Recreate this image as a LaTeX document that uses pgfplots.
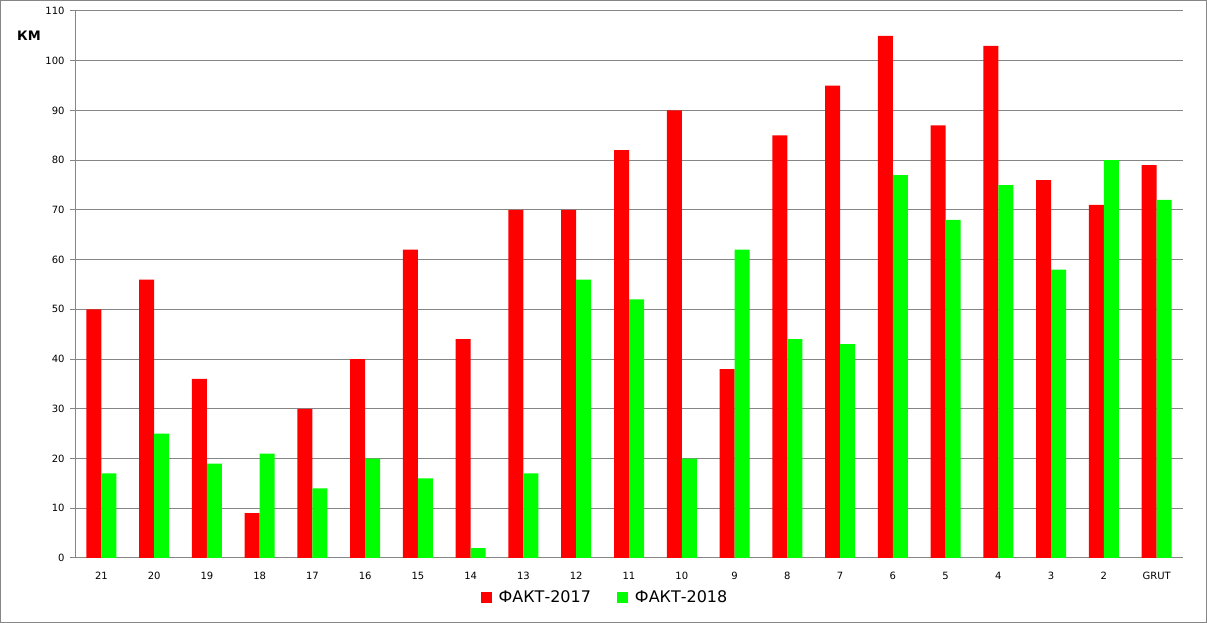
\documentclass[border=0pt]{standalone}
\usepackage{pgfplots}
\pgfplotsset{compat=1.18}
\usepackage{fontspec}
\setmainfont{DejaVu Sans}
\definecolor{barred}{HTML}{FF0000}
\definecolor{bargreen}{HTML}{00FF00}
\definecolor{gridgray}{HTML}{868686}
\pgfplotstableread{
x a b
0 50 17
1 56 25
2 36 19
3 9 21
4 30 14
5 40 20
6 62 16
7 44 2
8 70 17
9 70 56
10 82 52
11 90 20
12 38 62
13 85 44
14 95 43
15 105 77
16 87 68
17 103 75
18 76 58
19 71 80
20 79 72
}\data
\begin{document}
\begin{tikzpicture}[x=1bp,y=1bp]
\useasboundingbox (0,0) rectangle (1207,623);
\draw[gridgray,line width=1.2bp] (0.6,0.6) rectangle (1206.4,622.4);
\begin{axis}[
  at={(75bp,65bp)}, anchor=south west,
  scale only axis, width=1108bp, height=547bp,
  ybar=0pt, bar width=15bp,
  xmin=-0.5, xmax=20.5, ymin=0, ymax=110,
  ytick={0,10,...,110},
  xtick={0,...,20},
  xticklabels={21,20,19,18,17,16,15,14,13,12,11,10,9,8,7,6,5,4,3,2,GRUT},
  extra x ticks={-0.5,0.5,...,20.5},
  extra x tick labels={},
  extra x tick style={major tick length=5bp, tick style={gridgray,line width=1bp}, grid=none},
  major x tick style={draw=none},
  axis x line*=bottom, axis y line*=left,
  axis line style={gridgray,line width=1bp,-},
  ymajorgrids, grid style={gridgray,line width=1bp},
  tick align=outside,
  major tick length=5bp,
  ytick style={gridgray,line width=1bp},
  /pgf/number format/assume math mode=true,
  tick label style={font=\fontsize{10bp}{12bp}\selectfont, black},
  yticklabel style={xshift=-2bp},
  xticklabel style={yshift=-6bp},
  legend style={at={(0.5,-0.06)}, anchor=north, xshift=-24bp, yshift=4bp, draw=none, fill=none,
    legend columns=2, font=\fontsize{16bp}{18bp}\selectfont,
    /tikz/every even column/.append style={column sep=24bp}},
  legend image code/.code={\fill[#1] (0bp,-5.5bp) rectangle (11bp,5.5bp);},
]
\addplot[fill=barred, draw=none] table[x=x,y=a]{\data};
\addplot[fill=bargreen, draw=none] table[x=x,y=b]{\data};
\legend{\hspace{5bp}ФАКТ-2017, \hspace{5bp}ФАКТ-2018}
\end{axis}
\node[font=\bfseries\fontsize{13bp}{15bp}\selectfont] at (29,587) {КМ};
\end{tikzpicture}
\end{document}
